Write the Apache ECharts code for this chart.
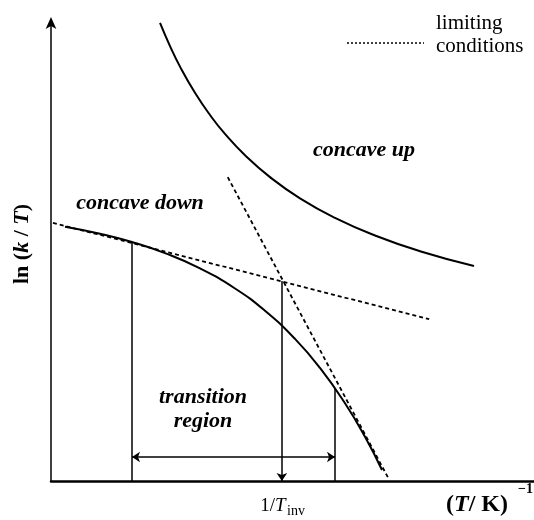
<!DOCTYPE html>
<html>
<head>
<meta charset="utf-8">
<script src="https://cdn.jsdelivr.net/npm/echarts@6/dist/echarts.min.js"></script>
<style>
  html, body { margin: 0; padding: 0; background: #fff; }
  #chart { width: 534px; height: 520px; }
</style>
</head>
<body>
<div id="chart"></div>
<script>
// ---- data (arbitrary units: x 0..10, y 0..10) ----
const concaveUpX = [2.257, 2.464, 2.671, 2.981, 3.292, 3.602, 4.017, 4.534, 5.155, 5.880, 6.708, 7.640, 8.758];
const concaveUpY = [9.935, 9.432, 8.989, 8.421, 7.939, 7.529, 7.067, 6.592, 6.132, 5.707, 5.325, 4.985, 4.664];

const concaveDownX = [0.290, 1.014, 1.677, 2.360, 3.085, 3.810, 4.431, 5.052, 5.569, 6.087, 6.501, 6.853];
const concaveDownY = [5.516, 5.364, 5.184, 4.943, 4.612, 4.176, 3.692, 3.082, 2.453, 1.685, 0.960, 0.239];

const limitShallowX = [0.04, 7.83];
const limitShallowY = [5.60, 3.51];
const limitSteepX = [3.66, 6.98];
const limitSteepY = [6.59, 0.07];

// transition region bounds and inversion point
const regionLeftX = 1.677, regionLeftTop = 5.184;
const regionRightX = 5.88, regionRightTop = 2.02;
const invX = 4.78, invTop = 4.34;
const regionArrowY = 0.52;

const pairs = (xs, ys) => xs.map((x, i) => [x, ys[i]]);

const chart = echarts.init(document.getElementById('chart'));
const serif = '"Liberation Serif", "Times New Roman", serif';
const black = '#000';

const option = {
  animation: false,
  backgroundColor: '#fff',
  grid: { left: 51, right: 0, top: 20, bottom: 39, containLabel: false },
  xAxis: {
    type: 'value', min: 0, max: 10,
    axisLine: { show: true, onZero: false, lineStyle: { color: black, width: 2.5 } },
    axisTick: { show: false }, axisLabel: { show: false }, splitLine: { show: false }
  },
  yAxis: {
    type: 'value', min: 0, max: 10,
    axisLine: { show: true, onZero: false, symbol: ['none', 'arrow'], symbolSize: [8, 12],
      symbolOffset: [0, 3],
      lineStyle: { color: black, width: 1.5 } },
    axisTick: { show: false }, axisLabel: { show: false }, splitLine: { show: false }
  },
  series: [
    { type: 'line', data: pairs(concaveUpX, concaveUpY), smooth: 0.5, showSymbol: false,
      lineStyle: { color: black, width: 2 } },
    { type: 'line', data: pairs(concaveDownX, concaveDownY), smooth: 0.5, showSymbol: false,
      lineStyle: { color: black, width: 2 } },
    { type: 'line', data: pairs(limitShallowX, limitShallowY), showSymbol: false,
      lineStyle: { color: black, width: 1.8, type: [4, 3] } },
    { type: 'line', data: pairs(limitSteepX, limitSteepY), showSymbol: false,
      lineStyle: { color: black, width: 1.8, type: [4, 3] } },
    { type: 'lines', coordinateSystem: 'cartesian2d', symbol: 'none',
      lineStyle: { color: black, width: 1.5, opacity: 1 },
      data: [
        { coords: [[regionLeftX, regionLeftTop], [regionLeftX, 0]] },
        { coords: [[regionRightX, regionRightTop], [regionRightX, 0]] }
      ] },
    { type: 'lines', coordinateSystem: 'cartesian2d', symbol: ['none', 'arrow'], symbolSize: 8,
      lineStyle: { color: black, width: 1.5, opacity: 1 },
      data: [ { coords: [[invX, invTop], [invX, 0]] } ] },
    { type: 'lines', coordinateSystem: 'cartesian2d', symbol: ['arrow', 'arrow'], symbolSize: 8,
      lineStyle: { color: black, width: 1.5, opacity: 1 },
      data: [ { coords: [[regionLeftX, regionArrowY], [regionRightX, regionArrowY]] } ] }
  ],
  graphic: [
    // legend
    { type: 'line', shape: { x1: 347, y1: 43, x2: 424, y2: 43 },
      style: { stroke: black, lineWidth: 1.5, lineDash: [2, 2] } },
    { type: 'text', left: 436, top: 13,
      style: { text: 'limiting', font: '21px ' + serif, fill: black } },
    { type: 'text', left: 436, top: 36,
      style: { text: 'conditions', font: '21px ' + serif, fill: black } },
    // annotations
    { type: 'text', x: 364, y: 150,
      style: { text: 'concave up', font: 'italic bold 22px ' + serif, fill: black,
        align: 'center', verticalAlign: 'middle' } },
    { type: 'text', x: 140, y: 203,
      style: { text: 'concave down', font: 'italic bold 22px ' + serif, fill: black,
        align: 'center', verticalAlign: 'middle' } },
    { type: 'text', x: 203, y: 397,
      style: { text: 'transition', font: 'italic bold 22px ' + serif, fill: black,
        align: 'center', verticalAlign: 'middle' } },
    { type: 'text', x: 203, y: 421,
      style: { text: 'region', font: 'italic bold 22px ' + serif, fill: black,
        align: 'center', verticalAlign: 'middle' } },
    // y axis title
    { type: 'text', x: 22, y: 244, rotation: Math.PI / 2,
      style: { text: '{a|ln (}{b|k}{a| / }{b|T}{a|)}', align: 'center', verticalAlign: 'middle',
        rich: {
          a: { font: 'bold 22px ' + serif, fill: black },
          b: { font: 'italic bold 22px ' + serif, fill: black }
        } } },
    // x axis labels
    { type: 'text', x: 273, y: 506,
      style: { text: '{a|1/}{b|T}', align: 'center', verticalAlign: 'middle',
        rich: {
          a: { font: '19px ' + serif, fill: black },
          b: { font: 'italic 19px ' + serif, fill: black }
        } } },
    { type: 'text', x: 287, y: 511,
      style: { text: 'inv', font: '14px ' + serif, fill: black, align: 'left', verticalAlign: 'middle' } },
    { type: 'text', x: 446, y: 505,
      style: { text: '{a|(}{b|T}{a|/ K)}', align: 'left', verticalAlign: 'middle',
        rich: {
          a: { font: 'bold 24px ' + serif, fill: black },
          b: { font: 'italic bold 24px ' + serif, fill: black }
        } } },
    { type: 'text', x: 518, y: 489,
      style: { text: '−1', font: 'bold 14px ' + serif, fill: black, align: 'left', verticalAlign: 'middle' } }
  ]
};
chart.setOption(option);
</script>
</body>
</html>
